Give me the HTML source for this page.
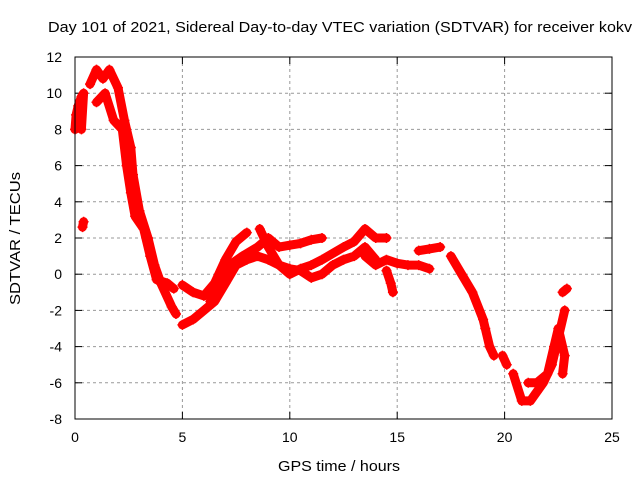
<!DOCTYPE html>
<html><head><meta charset="utf-8"><style>
body{margin:0;background:#fff;}
svg{display:block;font-family:"Liberation Sans",sans-serif;}
</style></head><body>
<svg id="chart" width="640" height="480">
<text x="48" y="32" font-size="15" textLength="584" lengthAdjust="spacingAndGlyphs">Day 101 of 2021, Sidereal Day-to-day VTEC variation (SDTVAR) for receiver kokv</text>
<text x="278" y="471" font-size="15" textLength="122" lengthAdjust="spacingAndGlyphs">GPS time / hours</text>
<text transform="translate(20,305) rotate(-90)" font-size="15" textLength="133" lengthAdjust="spacingAndGlyphs">SDTVAR / TECUs</text>
<g id="grid"></g><g id="marks"></g>
<rect x="75" y="57" width="537" height="362" fill="none" stroke="#000" stroke-width="1"/>
</svg>
<script>
const xTicks=[0,5,10,15,20,25];
const yTicks=[-8,-6,-4,-2,0,2,4,6,8,10,12];
const arcA=[[0,8],[0.05,8.8],[0.15,9.3],[0.3,9.8],[0.4,10],[0.3,8]];
const arcB=[[0.7,10.5],[1,11.3],[1.3,10.8],[1.6,11.3],[2,10.3],[2.3,8.5],[2.6,7],[2.7,5.5],[3,3.5],[3.4,2],[3.7,0.5],[4,-0.5],[4.5,-1.8],[4.7,-2.2]];
const arcC=[[1,9.5],[1.4,10],[1.8,8.5],[2.2,8],[2.4,6],[2.6,4.5],[2.8,3.2],[3.2,2.5],[3.5,1],[3.8,-0.3],[4.3,-0.5],[4.6,-0.8]];
const arcD=[[5,-2.8],[5.5,-2.5],[6,-2],[6.5,-1.5],[7,-0.5],[7.5,0.5],[8,0.8],[8.5,1],[9,0.8],[9.5,0.5],[10,0.3],[10.5,0.2],[11,-0.2],[11.5,0],[12,0.5],[12.5,0.8],[13,1],[13.5,1.5],[14,0.8]];
const arcE=[[5,-0.6],[5.5,-1],[6,-1.2],[6.5,-0.5],[7,0.8],[7.5,1.8],[8,2.3]];
const arcF=[[6.3,-1.5],[6.8,-0.5],[7.2,0.5],[7.8,1],[8.5,1.5],[9,2],[9.5,1.5],[10,1.6],[10.5,1.7],[11,1.9],[11.5,2]];
const arcG=[[8.6,2.5],[9,1.5],[9.5,0.5],[10,0],[10.5,0.3],[11,0.5],[11.5,0.8],[12.5,1.5],[13,1.8],[13.5,2.5],[14,2],[14.5,2]];
const arcH=[[13.5,1],[14,0.5],[14.5,0.8],[15,0.6],[15.5,0.5],[16,0.5],[16.5,0.3]];
const arcI=[[16,1.3],[16.5,1.4],[17,1.5]];
const arcJ=[[14.5,0.2],[14.7,-0.5],[14.8,-1]];
const arcK=[[17.5,1],[18,0],[18.5,-1],[19,-2.5],[19.1,-3],[19.3,-4],[19.5,-4.5]];
const arcL=[[19.9,-4.5],[20.1,-5]];
const arcM=[[20.4,-5.5],[20.8,-7],[21.2,-7],[21.5,-6.5],[21.8,-6],[22.2,-5],[22.5,-3.5],[22.8,-2]];
const arcN=[[21.1,-6],[21.5,-6],[22,-5.5],[22.3,-4],[22.5,-3],[22.8,-4.5],[22.7,-5.5]];
const arcO=[[22.7,-1],[22.9,-0.8]];
const arcP=[[0.35,2.6],[0.4,2.9]];
const series=[arcA,arcB,arcC,arcD,arcE,arcF,arcG,arcH,arcI,arcJ,arcK,arcL,arcM,arcN,arcO,arcP];
const X=v=>75+v*537/25, Y=v=>57+(12-v)*362/20;
const NS="http://www.w3.org/2000/svg";
const grid=document.getElementById('grid'), marks=document.getElementById('marks');
function mk(t,a,p){const e=document.createElementNS(NS,t);for(const k in a)e.setAttribute(k,a[k]);p.appendChild(e);return e;}
xTicks.forEach(t=>{
 if(t>0&&t<25){const l=mk('line',{x1:X(t),x2:X(t),y1:57,y2:419,stroke:'#999','stroke-dasharray':'3,3'},grid);
 
 }
 mk('line',{x1:X(t),x2:X(t),y1:419,y2:412,stroke:'#000'},grid);
 mk('line',{x1:X(t),x2:X(t),y1:57,y2:64,stroke:'#000'},grid);
 const tx=mk('text',{x:X(t),y:442,'font-size':14,'text-anchor':'middle'},grid);tx.textContent=t;
 
 
});
yTicks.forEach(t=>{
 if(t>-8&&t<12){const l=mk('line',{x1:75,x2:612,y1:Y(t),y2:Y(t),stroke:'#999','stroke-dasharray':'3,3'},grid);
 
 }
 mk('line',{x1:75,x2:82,y1:Y(t),y2:Y(t),stroke:'#000'},grid);
 mk('line',{x1:612,x2:605,y1:Y(t),y2:Y(t),stroke:'#000'},grid);
 const tx=mk('text',{x:62,y:Y(t)+5,'font-size':14,'text-anchor':'end'},grid);tx.textContent=t;
 
 
});
series.forEach(s=>{
 const d=s.map((p,i)=>(i?'L':'M')+X(p[0]).toFixed(1)+','+Y(p[1]).toFixed(1)).join('');
 const pa=mk('path',{d:d,fill:'none',stroke:'#f00','stroke-width':9,'stroke-linecap':'round','stroke-linejoin':'round'},marks);
 
 
 s.forEach(p=>{const x=X(p[0]),y=Y(p[1]);
  const m=mk('path',{d:`M${x-5},${y}H${x+5}M${x},${y-5}V${y+5}`,stroke:'#f00','stroke-width':1.5},marks);
  
  });
});
</script>
</body></html>
